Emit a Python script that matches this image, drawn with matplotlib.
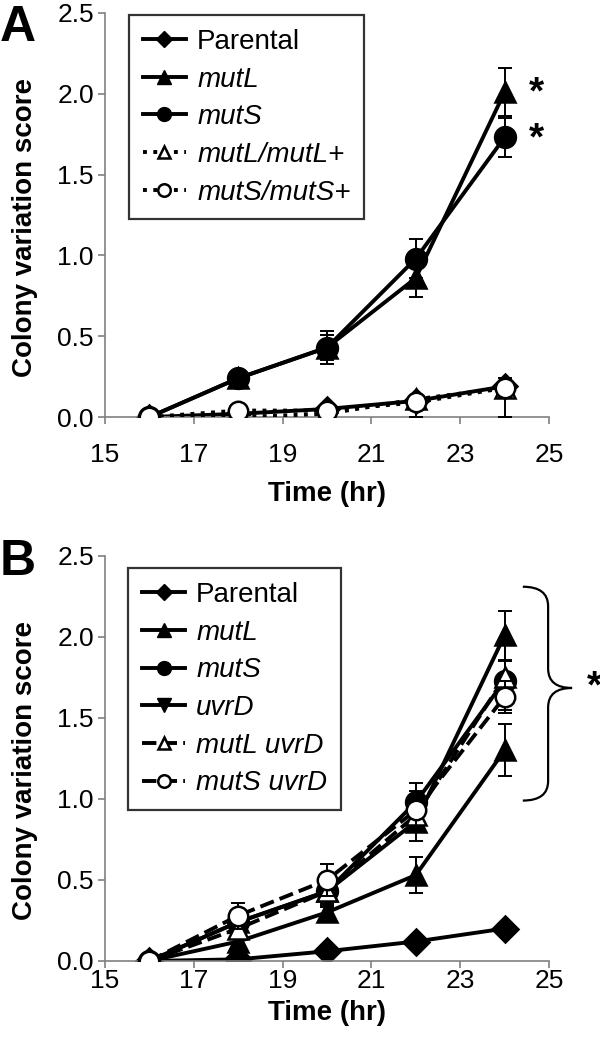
import matplotlib
matplotlib.use("Agg")
import matplotlib.pyplot as plt
from matplotlib.path import Path
from matplotlib.patches import PathPatch
from matplotlib.lines import Line2D

plt.rcParams['font.family'] = ['Liberation Sans', 'DejaVu Sans']

time = [16, 18, 20, 22, 24]

# panel A
parental_A = [0.0, 0.02, 0.05, 0.10, 0.19]
parental_A_err = [0.0, 0.01, 0.01, 0.02, 0.03]
mutL = [0.0, 0.24, 0.43, 0.86, 2.01]
mutL_err = [0.0, 0.03, 0.08, 0.12, 0.15]
mutS = [0.0, 0.24, 0.43, 0.98, 1.73]
mutS_err = [0.0, 0.03, 0.10, 0.12, 0.12]
mutL_comp = [0.0, 0.0, 0.02, 0.11, 0.18]
mutL_comp_err = [0.0, 0.0, 0.02, 0.11, 0.18]
mutS_comp = [0.0, 0.04, 0.04, 0.09, 0.18]
mutS_comp_err = [0.0, 0.01, 0.02, 0.02, 0.06]

# panel B
parental = [0.0, 0.01, 0.06, 0.12, 0.20]
parental_err = [0.0, 0.01, 0.01, 0.02, 0.03]
uvrD = [0.0, 0.12, 0.30, 0.53, 1.30]
uvrD_err = [0.0, 0.02, 0.04, 0.11, 0.16]
mutL_uvrD = [0.0, 0.20, 0.43, 0.90, 1.75]
mutL_uvrD_err = [0.0, 0.03, 0.05, 0.10, 0.20]
mutS_uvrD = [0.0, 0.28, 0.50, 0.93, 1.63]
mutS_uvrD_err = [0.0, 0.08, 0.10, 0.12, 0.10]

LW = 2.8
TICK_FS = 19
LAB_FS = 20
LEG_FS = 20


def series(ax, y, err, marker, face, ls, ms, z, lower_only=False):
    yerr = [err, [0] * len(err)] if lower_only else err
    ax.errorbar(time, y, yerr=yerr, fmt='none', ecolor='black', elinewidth=1.4,
                capsize=5, capthick=1.4, zorder=z)
    ax.plot(time, y, color='black', lw=LW, ls=ls, marker=marker, ms=ms,
            mfc=face, mec='black', mew=1.8, zorder=z + 0.5)


def style(ax, xpad, xlabpad):
    ax.set_xlim(15, 25)
    ax.set_ylim(0, 2.5)
    ax.set_xticks([15, 17, 19, 21, 23, 25])
    ax.set_yticks([0, 0.5, 1.0, 1.5, 2.0, 2.5])
    ax.set_yticklabels(['0.0', '0.5', '1.0', '1.5', '2.0', '2.5'])
    for s in ['top', 'right']:
        ax.spines[s].set_visible(False)
    for s in ['left', 'bottom']:
        ax.spines[s].set_color('#808080')
        ax.spines[s].set_linewidth(1.2)
    ax.tick_params(axis='both', colors='#808080', labelcolor='black',
                   labelsize=TICK_FS, length=5, width=1.2, direction='out')
    ax.tick_params(axis='x', pad=xpad)
    ax.tick_params(axis='y', pad=3)
    ax.set_xlabel('Time (hr)', fontsize=LAB_FS, fontweight='bold', labelpad=xlabpad)
    ax.set_ylabel('Colony variation score', fontsize=LAB_FS, fontweight='bold')
    ax.yaxis.set_label_coords(-0.152, 0.47)


def legend(ax, handles, labels, anchor):
    leg = ax.legend(handles, labels, loc='upper left', bbox_to_anchor=anchor,
                    fontsize=LEG_FS, frameon=True, fancybox=False, edgecolor='black',
                    handlelength=1.55, handletextpad=0.4, labelspacing=0.42,
                    borderpad=0.5, borderaxespad=0)
    leg.get_frame().set_linewidth(1.6)
    for t in leg.get_texts()[1:]:
        t.set_fontstyle('italic')
    return leg


fig = plt.figure(figsize=(6, 10.46), dpi=100)
axA = fig.add_axes([0.175, 0.6013, 0.74, 0.3863])
axB = fig.add_axes([0.175, 0.0813, 0.74, 0.3872])

# Panel A
series(axA, parental_A, parental_A_err, 'D', 'black', '-', 12, 2)
series(axA, mutL, mutL_err, '^', 'black', '-', 15, 3)
series(axA, mutS, mutS_err, 'o', 'black', '-', 15, 4)
series(axA, mutL_comp, mutL_comp_err, '^', 'white', ':', 14, 5, lower_only=True)
series(axA, mutS_comp, mutS_comp_err, 'o', 'white', ':', 14, 6)
style(axA, 14, 10)

hA = [Line2D([], [], color='black', lw=LW, marker='D', ms=8, mfc='black'),
      Line2D([], [], color='black', lw=LW, marker='^', ms=10, mfc='black'),
      Line2D([], [], color='black', lw=LW, marker='o', ms=10, mfc='black'),
      Line2D([], [], color='black', lw=LW, ls=':', marker='^', ms=9, mfc='white', mew=1.8),
      Line2D([], [], color='black', lw=LW, ls=':', marker='o', ms=9, mfc='white', mew=1.8)]
lA = ['Parental', 'mutL', 'mutS', 'mutL/mutL+', 'mutS/mutS+']
legend(axA, hA, lA, (0.054, 0.995))

axA.text(24.55, 2.0, '*', fontsize=28, fontweight='bold', ha='left', va='center')
axA.text(24.55, 1.72, '*', fontsize=28, fontweight='bold', ha='left', va='center')
fig.text(0.0, 0.995, 'A', fontsize=36, fontweight='bold', ha='left', va='top')

# Panel B
series(axB, parental, parental_err, 'D', 'black', '-', 13, 2)
series(axB, uvrD, uvrD_err, '^', 'black', '-', 15, 3)
series(axB, mutL, mutL_err, '^', 'black', '-', 15, 4)
series(axB, mutS, mutS_err, 'o', 'black', '-', 15, 5)
series(axB, mutL_uvrD, mutL_uvrD_err, '^', 'white', '--', 14, 6)
series(axB, mutS_uvrD, mutS_uvrD_err, 'o', 'white', '--', 14, 7)
style(axB, 1, 5)

hB = [Line2D([], [], color='black', lw=LW, marker='D', ms=8, mfc='black'),
      Line2D([], [], color='black', lw=LW, marker='^', ms=10, mfc='black'),
      Line2D([], [], color='black', lw=LW, marker='o', ms=10, mfc='black'),
      Line2D([], [], color='black', lw=LW, marker='v', ms=10, mfc='black'),
      Line2D([], [], color='black', lw=LW, ls='--', marker='^', ms=9, mfc='white', mew=1.8),
      Line2D([], [], color='black', lw=LW, ls='--', marker='o', ms=9, mfc='white', mew=1.8)]
lB = ['Parental', 'mutL', 'mutS', 'uvrD', 'mutL uvrD', 'mutS uvrD']
legend(axB, hB, lB, (0.052, 0.97))

# curly brace on the right of panel B
x0, xs, xt = 24.41, 24.98, 25.52
yt, ym, yb = 2.31, 1.685, 0.99
r = 0.12
verts = [(x0, yt), (xs, yt), (xs, yt - r), (xs, ym + r), (xs, ym), (xt, ym),
         (xt, ym), (xs, ym), (xs, ym - r), (xs, yb + r), (xs, yb), (x0, yb)]
codes = [Path.MOVETO, Path.CURVE3, Path.CURVE3, Path.LINETO, Path.CURVE3, Path.CURVE3,
         Path.MOVETO, Path.CURVE3, Path.CURVE3, Path.LINETO, Path.CURVE3, Path.CURVE3]
axB.add_patch(PathPatch(Path(verts, codes), fc='none', ec='black', lw=1.6, clip_on=False))
axB.text(25.85, 1.685, '*', fontsize=28, fontweight='bold', ha='left', va='center')
fig.text(0.0, 0.485, 'B', fontsize=36, fontweight='bold', ha='left', va='top')

fig.savefig('out.png', dpi=100)
